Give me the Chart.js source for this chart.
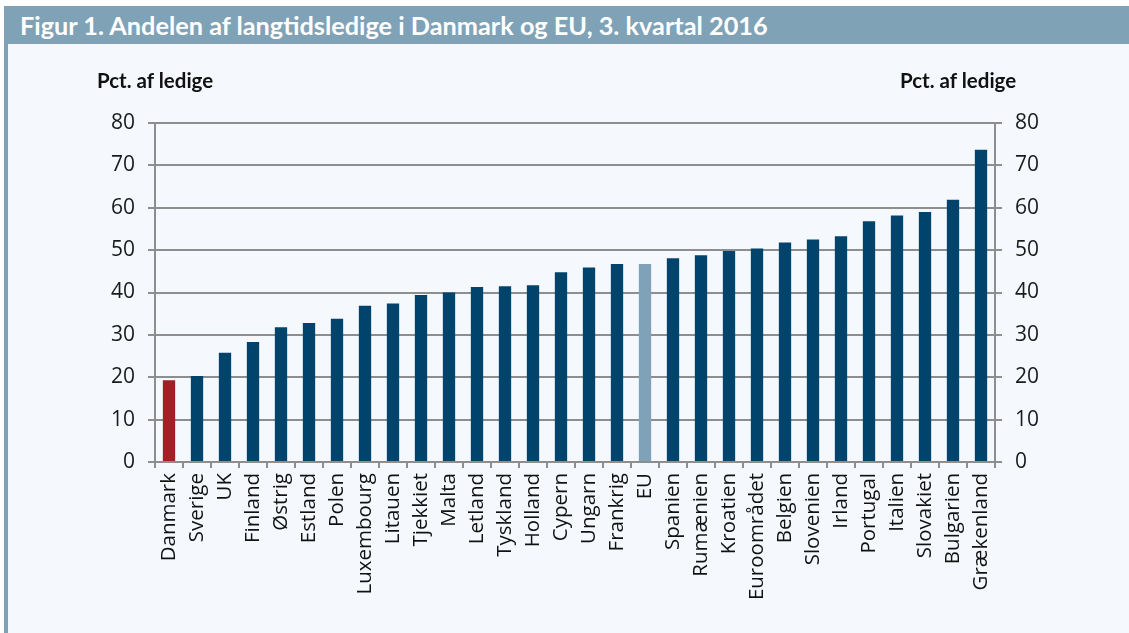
<!DOCTYPE html>
<html>
<head>
<meta charset="utf-8">
<script src="https://cdn.jsdelivr.net/npm/chart.js@4/dist/chart.umd.min.js"></script>
<style>
  html, body { margin: 0; padding: 0; background: #ffffff; }
  #wrap { position: relative; width: 1129px; height: 633px; overflow: hidden; background: #ffffff; }
  #panel { position: absolute; left: 8px; top: 44px; width: 1121px; height: 589px; background: #f5f9fd; }
  #leftbar { position: absolute; left: 4px; top: 44px; width: 4px; height: 589px; background: #7fa2b7; }
  #titlebar { position: absolute; left: 4px; top: 6px; width: 1125px; height: 38px; background: #7fa2b7; }
  #title { position: absolute; left: 20px; top: 6px; height: 38px; line-height: 38px; color: #ffffff;
           font-family: Lato, "Open Sans", sans-serif; font-weight: bold; font-size: 22px; white-space: nowrap; }
  .axtitle { position: absolute; top: 67px; font-family: Lato, "Open Sans", sans-serif; font-weight: bold;
             font-size: 20.5px; color: #111111; white-space: nowrap; line-height: 26px; }
  #c { position: absolute; left: 0; top: 0; }
</style>
</head>
<body>
<div id="wrap">
  <div id="panel"></div>
  <div id="leftbar"></div>
  <div id="titlebar"></div>
  <div id="title">Figur 1. Andelen af langtidsledige i Danmark og EU, 3. kvartal 2016</div>
  <canvas id="c" width="1129" height="633"></canvas>
  <div class="axtitle" id="lt" style="left:97px;">Pct. af ledige</div>
  <div class="axtitle" id="rt" style="left:900px;">Pct. af ledige</div>
</div>
<script>
const categories = ["Danmark","Sverige","UK","Finland","Østrig","Estland","Polen","Luxembourg","Litauen","Tjekkiet",
  "Malta","Letland","Tyskland","Holland","Cypern","Ungarn","Frankrig","EU","Spanien","Rumænien",
  "Kroatien","Euroområdet","Belgien","Slovenien","Irland","Portugal","Italien","Slovakiet","Bulgarien","Grækenland"];
const values = [19.3, 20.3, 25.8, 28.3, 31.8, 32.8, 33.8, 36.9, 37.4, 39.4,
  40.0, 41.3, 41.5, 41.7, 44.8, 45.9, 46.7, 46.7, 48.1, 48.8,
  49.8, 50.4, 51.8, 52.5, 53.3, 56.8, 58.2, 59.0, 61.9, 73.7];
const yTicks = [0, 10, 20, 30, 40, 50, 60, 70, 80];

// fit title width to reference (~748px)
(function(){
  const t = document.getElementById('title');
  const w = t.getBoundingClientRect().width;
  const target = 748;
  const fs = 22 * target / w;
  t.style.fontSize = fs.toFixed(2) + 'px';
})();

const COL_MAIN = '#00446d', COL_DK = '#a31f25', COL_EU = '#7fa2b8';
const barColors = categories.map(c => c === 'Danmark' ? COL_DK : (c === 'EU' ? COL_EU : COL_MAIN));
const GRID = '#8e8e8e';
const tickFont = { family: '"Open Sans", "Noto Sans", sans-serif', size: 21 };

new Chart(document.getElementById('c'), {
  type: 'bar',
  data: {
    labels: categories,
    datasets: [{ data: values, backgroundColor: barColors, barPercentage: 0.44, categoryPercentage: 1, yAxisID: 'y' }]
  },
  options: {
    responsive: false,
    animation: false,
    devicePixelRatio: 1,
    layout: { padding: { top: 123, left: 0, right: 0, bottom: 0 } },
    plugins: { legend: { display: false }, tooltip: { enabled: false }, title: { display: false } },
    scales: {
      x: {
        grid: { display: true, offset: true, drawOnChartArea: false, drawTicks: true, tickLength: 6, color: GRID, lineWidth: 2 },
        border: { display: true, color: GRID, width: 2 },
        ticks: { autoSkip: false, minRotation: 90, maxRotation: 90, color: '#111111', padding: 5,
                 font: { family: '"Open Sans", "Noto Sans", sans-serif', size: 20.5 } },
        afterFit: s => { s.height = 171; }
      },
      y: {
        position: 'left', min: 0, max: 80,
        afterBuildTicks: s => { s.ticks = yTicks.map(v => ({ value: v })); },
        grid: { color: GRID, lineWidth: 2, tickLength: 7, drawTicks: true },
        border: { display: true, color: GRID, width: 2 },
        ticks: { color: '#1a1a1a', padding: 13, font: tickFont },
        afterFit: s => { s.width = 155; }
      },
      y2: {
        position: 'right', min: 0, max: 80, display: true,
        afterBuildTicks: s => { s.ticks = yTicks.map(v => ({ value: v })); },
        grid: { drawOnChartArea: false, color: GRID, lineWidth: 2, tickLength: 7, drawTicks: true },
        border: { display: true, color: GRID, width: 2 },
        ticks: { color: '#1a1a1a', padding: 13, font: tickFont },
        afterFit: s => { s.width = 134; }
      }
    }
  }
});
</script>
</body>
</html>
